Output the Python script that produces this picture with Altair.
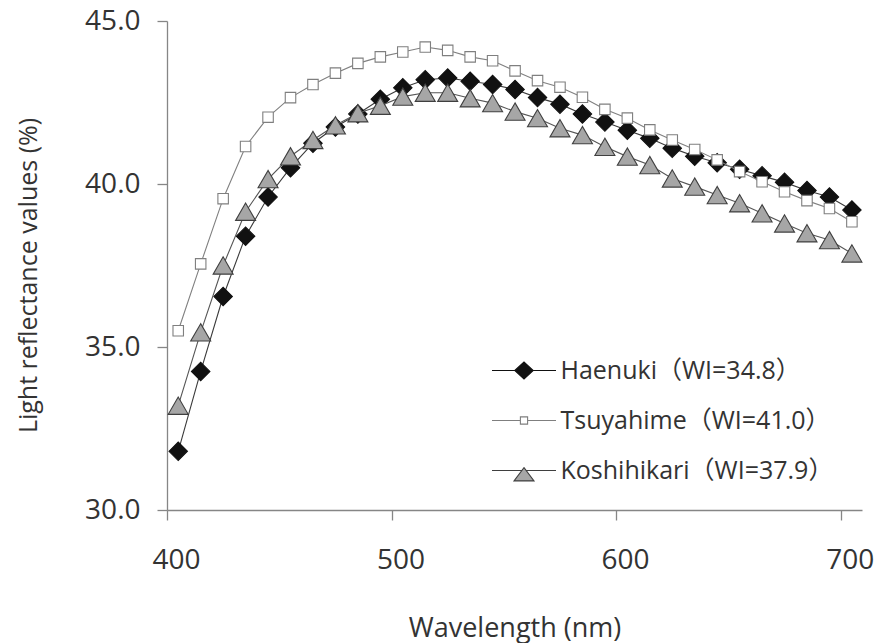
import altair as alt
import pandas as pd

# ---- data ----
wavelength = [405, 415, 425, 435, 445, 455, 465, 475, 485, 495, 505, 515, 525, 535, 545,
              555, 565, 575, 585, 595, 605, 615, 625, 635, 645, 655, 665, 675, 685, 695, 705]

haenuki = [31.80, 34.25, 36.55, 38.40, 39.60, 40.50, 41.25, 41.75, 42.15, 42.60, 42.95,
           43.20, 43.25, 43.15, 43.05, 42.90, 42.65, 42.45, 42.15, 41.90, 41.65, 41.40,
           41.10, 40.85, 40.65, 40.45, 40.25, 40.05, 39.80, 39.60, 39.20]

tsuyahime = [35.50, 37.55, 39.55, 41.15, 42.05, 42.65, 43.05, 43.40, 43.70, 43.90, 44.05,
             44.20, 44.10, 43.90, 43.78, 43.47, 43.17, 42.97, 42.66, 42.29, 42.02, 41.66,
             41.35, 41.06, 40.74, 40.38, 40.07, 39.76, 39.49, 39.25, 38.84]

koshihikari = [33.20, 35.45, 37.50, 39.15, 40.15, 40.85, 41.35, 41.80, 42.17, 42.40, 42.68,
               42.80, 42.80, 42.63, 42.48, 42.22, 42.02, 41.71, 41.50, 41.14, 40.84, 40.58,
               40.17, 39.92, 39.66, 39.41, 39.10, 38.79, 38.49, 38.28, 37.87]

series_names = ["Haenuki（WI=34.8）", "Tsuyahime（WI=41.0）", "Koshihikari（WI=37.9）"]
x_ticks = [400, 500, 600, 700]
y_ticks = [30, 35, 40, 45]

FONT = "Open Sans, Noto Sans CJK JP, sans-serif"

frames = []
for name, vals in zip(series_names, [haenuki, tsuyahime, koshihikari]):
    frames.append(pd.DataFrame({"wavelength": wavelength, "value": vals, "series": name}))
df = pd.concat(frames, ignore_index=True)

x_enc = alt.X("wavelength:Q",
              scale=alt.Scale(domain=[400, 709.5], nice=False, zero=False),
              axis=alt.Axis(values=x_ticks, title="Wavelength (nm)", labelOffset=9,
                            labelFlush=False, titleFontSize=27,
                            titleY=126, titleBaseline="alphabetic"))
y_enc = alt.Y("value:Q",
              scale=alt.Scale(domain=[30, 45], nice=False, zero=False),
              axis=alt.Axis(values=y_ticks, format=".1f",
                            title="Light reflectance values (%)", titleFontSize=25,
                            titleAngle=270, titleX=-131, titleY=254,
                            titleBaseline="alphabetic", titleAlign="center"))

base = alt.Chart(df).encode(x=x_enc, y=y_enc)

styles = [
    # name, line color, shape, size, fill, stroke
    (series_names[0], "#3a3a3a", "diamond", 340, "#111111", "#111111"),
    (series_names[1], "#808080", "square", 110, "#ffffff", "#7f7f7f"),
    (series_names[2], "#555555", "triangle-up", 400, "#a6a6a6", "#3f3f3f"),
]

layers = []
for name, lc, shp, sz, fl, st in styles:
    sub = base.transform_filter(alt.datum.series == name)
    layers.append(sub.mark_line(color=lc, strokeWidth=1.1))
    layers.append(sub.mark_point(shape=shp, size=sz, fill=fl, stroke=st,
                                 strokeWidth=1.1, filled=False, opacity=1))

# legend-only layer (draws nothing, provides legend symbols with connector lines)
legend_paths = [
    "M-4,0L4,0M-1.15,0L0,-1.05L1.15,0L0,1.05Z",
    "M-4,0L-0.45,0M0.45,0L4,0M-0.45,-0.45L0.45,-0.45L0.45,0.45L-0.45,0.45Z",
    "M-4,0L-0.25,0M0.25,0L4,0M0,-0.35L1.25,1.3L-1.25,1.3Z",
]
legend_layer = alt.Chart(df).transform_filter("false").mark_point(filled=False).encode(
    shape=alt.Shape("series:N", scale=alt.Scale(domain=series_names, range=legend_paths),
                    legend=alt.Legend(title=None)),
    fill=alt.Fill("series:N", scale=alt.Scale(domain=series_names,
                                              range=["#111111", "#ffffff", "#a6a6a6"]),
                  legend=alt.Legend(title=None)),
    stroke=alt.Stroke("series:N", scale=alt.Scale(domain=series_names,
                                                  range=["#111111", "#7f7f7f", "#3f3f3f"]),
                      legend=alt.Legend(title=None)),
)
layers.append(legend_layer)

chart = alt.layer(*layers).properties(
    width=695, height=489,
    autosize=alt.AutoSizeParams(type="none"),
    padding={"left": 167, "top": 21, "right": 14, "bottom": 133},
    background="white",
).configure_view(stroke=None).configure_axis(
    grid=False,
    domainColor="#868686", domainWidth=1.3,
    tickColor="#868686", tickWidth=1.3, tickSize=10,
    labelFont=FONT, labelFontSize=28, labelColor="#333333",
    titleFont=FONT, titleColor="#333333", titleFontWeight="normal",
).configure_axisX(labelPadding=26).configure_axisY(labelPadding=17).configure_legend(
    orient="none", legendX=344.5, legendY=337,
    padding=0, symbolSize=256, symbolStrokeWidth=1.1,
    labelFont=FONT, labelFontSize=25, labelColor="#333333", labelLimit=500,
    labelOffset=24, rowPadding=24, symbolOpacity=1,
)

chart.save("out.html", embed_options={"renderer": "svg", "actions": False})
